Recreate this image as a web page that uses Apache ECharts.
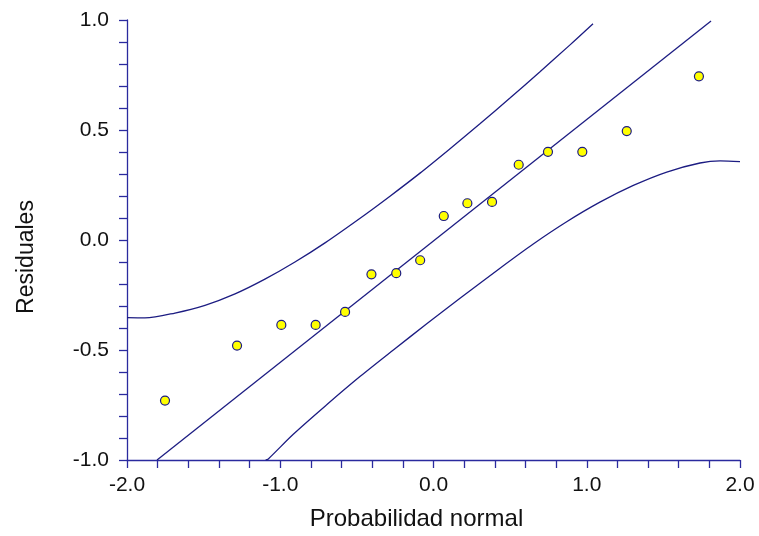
<!DOCTYPE html>
<html>
<head>
<meta charset="utf-8">
<script src="https://cdn.jsdelivr.net/npm/echarts@6/dist/echarts.min.js"></script>
<style>html,body{margin:0;padding:0;background:#fff;}#c{width:759px;height:536px;}</style>
</head>
<body>
<div id="c"></div>
<script>
// Observed residuals vs normal scores
var normalScores = [-1.752, -1.282, -0.993, -0.769, -0.577, -0.405, -0.243, -0.087, 0.067, 0.221, 0.382, 0.556, 0.747, 0.971, 1.261, 1.732];
var residuals    = [-0.730, -0.480, -0.386, -0.386, -0.327, -0.156, -0.151, -0.092, 0.109, 0.167, 0.173, 0.342, 0.401, 0.401, 0.495, 0.744];

// Reference line
var refLineX = [-1.804, 1.811];
var refLineY = [-1.0, 0.995];

// Upper confidence band
var upperX = [-2.0, -1.883, -1.687, -1.491, -1.295, -1.100, -0.904, -0.708, -0.447, -0.284, -0.088, 0.108, 0.303, 0.499, 0.695, 0.891, 1.041];
var upperY = [-0.353, -0.354, -0.332, -0.297, -0.245, -0.178, -0.100, -0.013, 0.115, 0.199, 0.304, 0.415, 0.528, 0.645, 0.765, 0.887, 0.983];

// Lower confidence band
var lowerX = [-1.095, -1.078, -0.915, -0.697, -0.480, -0.262, -0.044, 0.173, 0.434, 0.651, 0.869, 1.086, 1.304, 1.522, 1.739, 1.870, 2.0];
var lowerY = [-1.0, -0.995, -0.883, -0.749, -0.621, -0.500, -0.381, -0.265, -0.128, -0.018, 0.083, 0.172, 0.248, 0.309, 0.350, 0.360, 0.356];

var xTitle = 'Probabilidad normal';
var yTitle = 'Residuales';

function zip(a, b) { return a.map(function (v, i) { return [v, b[i]]; }); }

var axisColor = '#2a2a9e';
var lineColor = '#1c1c82';
var font = 'Liberation Sans, Arial, sans-serif';

var chart = echarts.init(document.getElementById('c'), null, { renderer: 'canvas' });
chart.setOption({
  animation: false,
  backgroundColor: '#ffffff',
  grid: { left: 127, right: 19, top: 20, bottom: 76, containLabel: false },
  xAxis: {
    type: 'value', min: -2, max: 2, interval: 1,
    name: xTitle, nameLocation: 'middle', nameGap: 47,
    nameTextStyle: { fontFamily: font, fontSize: 24, color: '#111', padding: [0, 34, 0, 0] },
    axisLine: { show: true, onZero: false, lineStyle: { color: axisColor, width: 1.3 } },
    axisTick: { show: true, inside: false, length: 8, lineStyle: { color: axisColor, width: 1.3 } },
    minorTick: { show: true, splitNumber: 5, length: 8, lineStyle: { color: axisColor, width: 1.3 } },
    axisLabel: { fontFamily: font, fontSize: 21, color: '#111', margin: 15, formatter: function (v) { return v.toFixed(1); } },
    splitLine: { show: false }
  },
  yAxis: {
    type: 'value', min: -1, max: 1, interval: 0.5,
    name: yTitle, nameLocation: 'middle', nameGap: 89,
    nameTextStyle: { fontFamily: font, fontSize: 23, color: '#111', padding: [0, 34, 0, 0] },
    axisLine: { show: true, onZero: false, lineStyle: { color: axisColor, width: 1.3 } },
    axisTick: { show: true, inside: false, length: 8, lineStyle: { color: axisColor, width: 1.3 } },
    minorTick: { show: true, splitNumber: 5, length: 8, lineStyle: { color: axisColor, width: 1.3 } },
    axisLabel: { fontFamily: font, fontSize: 21, color: '#111', margin: 18, formatter: function (v) { return v.toFixed(1); } },
    splitLine: { show: false }
  },
  series: [
    { type: 'line', data: zip(upperX, upperY), showSymbol: false, smooth: 0.3, lineStyle: { color: lineColor, width: 1.3 }, z: 2 },
    { type: 'line', data: zip(lowerX, lowerY), showSymbol: false, smooth: 0.3, lineStyle: { color: lineColor, width: 1.3 }, z: 2 },
    { type: 'line', data: zip(refLineX, refLineY), showSymbol: false, lineStyle: { color: lineColor, width: 1.3 }, z: 2 },
    { type: 'scatter', data: zip(normalScores, residuals), symbol: 'circle', symbolSize: 9,
      itemStyle: { color: '#ffff00', borderColor: '#1c1c82', borderWidth: 1.2, opacity: 1 }, z: 3 }
  ]
});
</script>
</body>
</html>
